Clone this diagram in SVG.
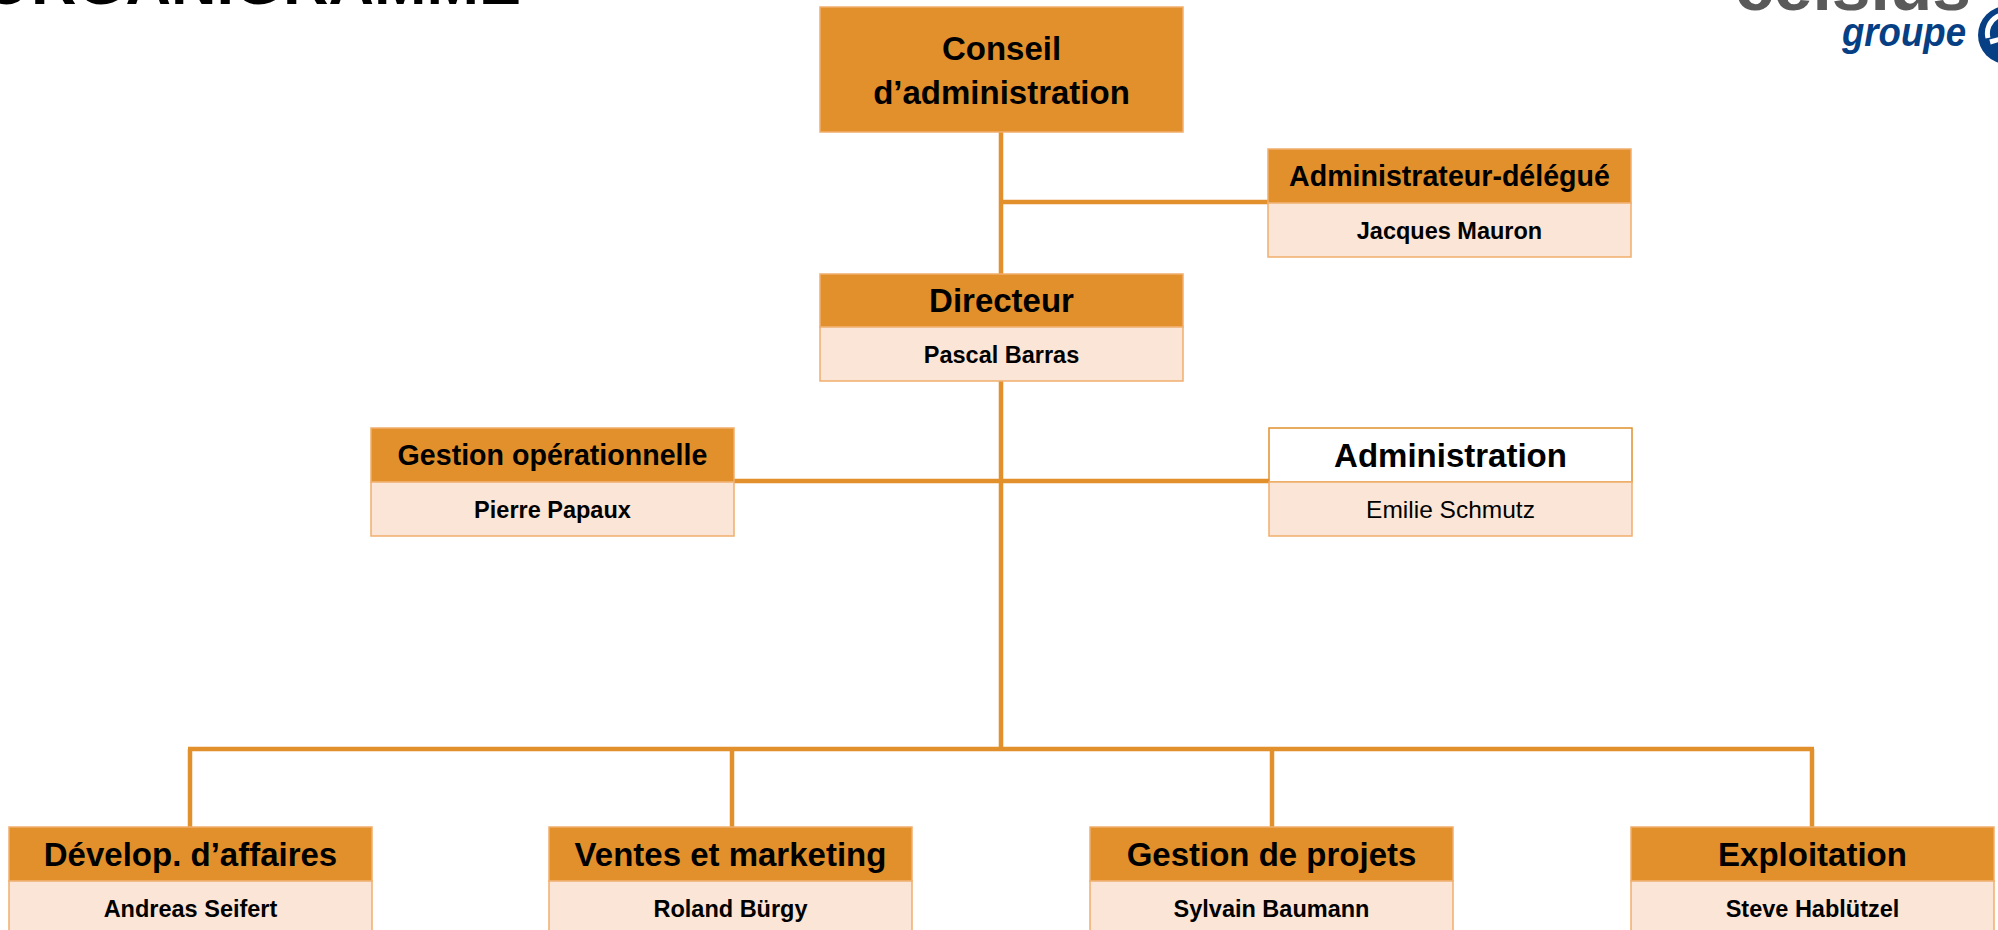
<svg xmlns="http://www.w3.org/2000/svg" width="1998" height="930" viewBox="0 0 1998 930">
<style>
.hd{fill:#E2902C;stroke:#F0AE6C;stroke-width:1.5}
.hw{fill:#FFFFFF;stroke:#E2902C;stroke-width:1.5}
.bd{fill:#FBE5D6;stroke:#F0AE6C;stroke-width:1.5}
.ln{stroke:#E2902C;stroke-width:4.5;fill:none}
text{font-family:"Liberation Sans",Arial,sans-serif;fill:#000;text-anchor:middle}
.t1{font-size:33px;font-weight:bold}
.t2{font-size:28.6px;font-weight:bold}
.nm{font-size:23.5px;font-weight:bold}
.nr{font-size:24.5px}
</style>
<rect width="1998" height="930" fill="#FFFFFF"/>
<g id="title">
<text x="-18" y="4" style="font-size:63px;font-weight:bold;text-anchor:start">ORGANIGRAMME</text>
</g>
<g id="logo">
<text x="1735" y="10" style="font-size:66px;font-weight:bold;text-anchor:start;fill:#5A5A5A" textLength="236" lengthAdjust="spacingAndGlyphs">celsius</text>
<text x="1842" y="46" style="font-size:40px;font-weight:bold;font-style:italic;text-anchor:start;fill:#063F84" textLength="124" lengthAdjust="spacingAndGlyphs">groupe</text>
<circle cx="2007" cy="35" r="29" fill="#063F84"/>
<path d="M1988,38 A19,19 0 0 1 2020,20" stroke="#FFFFFF" stroke-width="5" fill="none"/>
<path d="M1990,42 L2008,37" stroke="#FFFFFF" stroke-width="5" fill="none"/>
</g>
<g id="connectors">
<line class="ln" x1="1001" y1="132" x2="1001" y2="274"/>
<line class="ln" x1="1001" y1="202" x2="1268" y2="202"/>
<line class="ln" x1="1001" y1="381" x2="1001" y2="751"/>
<line class="ln" x1="734" y1="481" x2="1269" y2="481"/>
<line class="ln" x1="188" y1="749" x2="1814" y2="749"/>
<line class="ln" x1="190" y1="749" x2="190" y2="827"/>
<line class="ln" x1="732" y1="749" x2="732" y2="827"/>
<line class="ln" x1="1272" y1="749" x2="1272" y2="827"/>
<line class="ln" x1="1812" y1="749" x2="1812" y2="827"/>
</g>
<g id="conseil">
<rect class="hd" x="820" y="7" width="363" height="125"/>
<text class="t1" x="1001.5" y="60">Conseil</text>
<text class="t1" x="1001.5" y="104">d’administration</text>
</g>
<g id="administrateur-delegue">
<rect class="hd" x="1268" y="149" width="363" height="54"/>
<rect class="bd" x="1268" y="203" width="363" height="54"/>
<text class="t2" x="1449.5" y="186">Administrateur-délégué</text>
<text class="nm" x="1449.5" y="238.5">Jacques Mauron</text>
</g>
<g id="directeur">
<rect class="hd" x="820" y="274" width="363" height="53"/>
<rect class="bd" x="820" y="327" width="363" height="54"/>
<text class="t1" x="1001.5" y="312">Directeur</text>
<text class="nm" x="1001.5" y="362.5">Pascal Barras</text>
</g>
<g id="gestion-operationnelle">
<rect class="hd" x="371" y="428" width="363" height="54"/>
<rect class="bd" x="371" y="482" width="363" height="54"/>
<text class="t2" x="552.5" y="465">Gestion opérationnelle</text>
<text class="nm" x="552.5" y="517.5">Pierre Papaux</text>
</g>
<g id="administration">
<rect class="hw" x="1269" y="428" width="363" height="54"/>
<rect class="bd" x="1269" y="482" width="363" height="54"/>
<text class="t1" x="1450.5" y="467">Administration</text>
<text class="nr" x="1450.5" y="517.5">Emilie Schmutz</text>
</g>
<g id="developpement">
<rect class="hd" x="9" y="827" width="363" height="54"/>
<rect class="bd" x="9" y="881" width="363" height="54"/>
<text class="t1" x="190.5" y="866">Dévelop. d’affaires</text>
<text class="nm" x="190.5" y="916.5">Andreas Seifert</text>
</g>
<g id="ventes">
<rect class="hd" x="549" y="827" width="363" height="54"/>
<rect class="bd" x="549" y="881" width="363" height="54"/>
<text class="t1" x="730.5" y="866">Ventes et marketing</text>
<text class="nm" x="730.5" y="916.5">Roland Bürgy</text>
</g>
<g id="gestion-projets">
<rect class="hd" x="1090" y="827" width="363" height="54"/>
<rect class="bd" x="1090" y="881" width="363" height="54"/>
<text class="t1" x="1271.5" y="866">Gestion de projets</text>
<text class="nm" x="1271.5" y="916.5">Sylvain Baumann</text>
</g>
<g id="exploitation">
<rect class="hd" x="1631" y="827" width="363" height="54"/>
<rect class="bd" x="1631" y="881" width="363" height="54"/>
<text class="t1" x="1812.5" y="866">Exploitation</text>
<text class="nm" x="1812.5" y="916.5">Steve Hablützel</text>
</g>
</svg>
